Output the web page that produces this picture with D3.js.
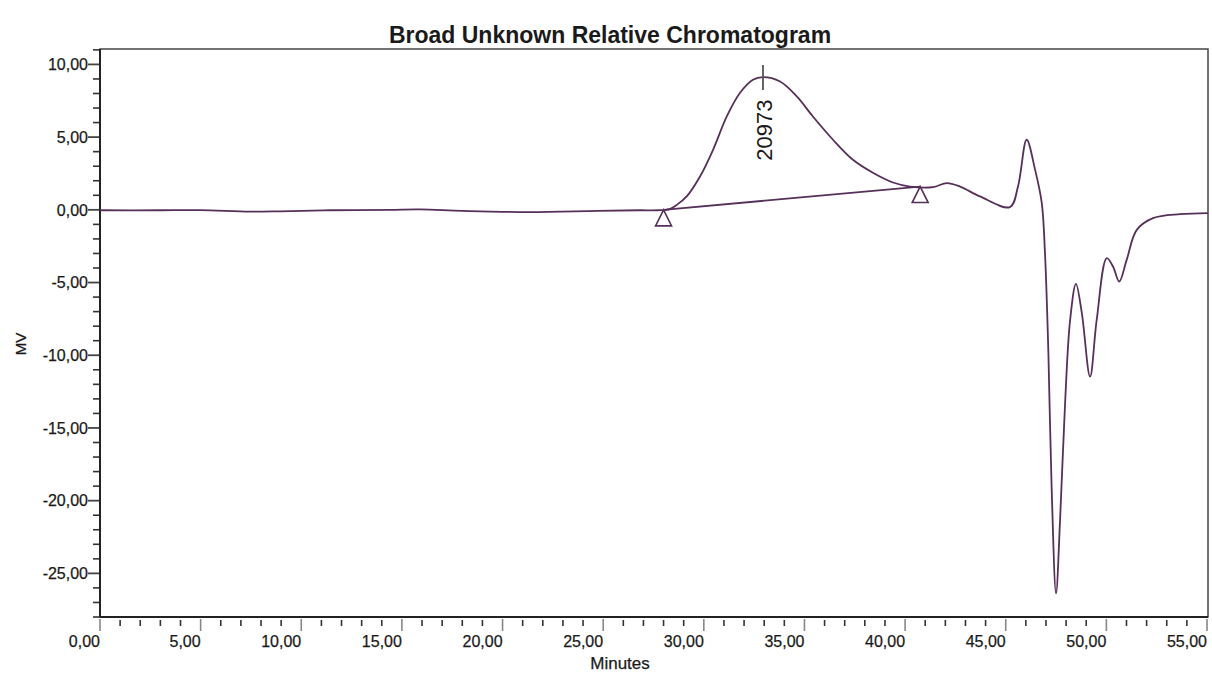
<!DOCTYPE html>
<html>
<head>
<meta charset="utf-8">
<script src="https://cdn.jsdelivr.net/npm/d3@7"></script>
<style>
  body { margin: 0; background: #fff; }
  svg { font-family: "Liberation Sans", Arial, sans-serif; }
</style>
</head>
<body>
<div id="chart"></div>
<script>

// --------------------------------------
//  Data
// --------------------------------------

const minutes = [0, 2.98, 4.97, 7.45, 8.94, 11.4, 14.4, 15.9, 18.0, 21.4, 24.7, 26.8, 27.7, 28.3, 28.66,
  29.15, 29.81, 30.46, 31.14, 31.8, 32.44, 32.94, 33.79, 34.62, 35.42, 36.42, 37.41, 38.4, 39.4,
  40.24, 41.39, 42.07, 42.73, 43.72, 45.21, 45.61, 46.04, 46.46, 46.79, 46.95, 47.12, 47.28, 47.5,
  47.7, 47.95, 48.2, 48.49, 48.78, 49.19, 49.52, 50.02, 50.33, 50.64, 51.01, 51.51, 52.32, 53.66, 55.05];

const mv = [-0.03, -0.03, -0.02, -0.12, -0.10, -0.03, 0.0, 0.03, -0.07, -0.16, -0.07, -0.03, -0.03, 0.05, 0.34,
  0.92, 2.29, 4.13, 6.42, 8.05, 8.95, 9.13, 8.83, 7.80, 6.42, 4.82, 3.44, 2.55, 1.88,
  1.60, 1.56, 1.84, 1.60, 0.92, 0.19, 1.60, 4.82, 2.75, 0.48, -2.96, -9.84, -19.04, -26.38,
  -21.34, -13.28, -7.57, -5.09, -7.09, -11.47, -7.57, -3.32, -3.90, -4.93, -3.44, -1.38, -0.57, -0.30, -0.23];

// integration baseline (start / end markers)
const baseTimes = [28.0, 40.75];
const baseValues = [0.0, 1.6];

// peak label
const peakTime = 32.94;
const peakValue = 9.13;
const peakArea = "20973";

const yTicks = [-25, -20, -15, -10, -5, 0, 5, 10];
const xTicks = [0, 5, 10, 15, 20, 25, 30, 35, 40, 45, 50, 55];

const data = minutes.map((t, i) => ({t: t, v: mv[i]}));

// --------------------------------------
//  Canvas
// --------------------------------------

const width = 1212;
const height = 673;
const margin = {top: 49, right: 4, bottom: 56, left: 100};

const svg = d3.select("#chart")
  .append("svg")
    .attr("width", width)
    .attr("height", height);

const lineColor = "#57305a";

// --------------------------------------
//  Scales
// --------------------------------------

const x = d3.scaleLinear()
    .domain([0, 55.05])
    .range([margin.left, width - margin.right]);

const y = d3.scaleLinear()
    .domain([-28, 11.06])
    .range([height - margin.bottom, margin.top]);

const fmt = d3.formatLocale({decimal: ",", thousands: ".", grouping: [3], currency: ["", ""], minus: "-"}).format(".2f");

// --------------------------------------
//  Frame
// --------------------------------------

svg.append("rect")
    .attr("x", x.range()[0])
    .attr("y", y.range()[1])
    .attr("width", x.range()[1] - x.range()[0])
    .attr("height", y.range()[0] - y.range()[1])
    .attr("fill", "none")
    .attr("stroke", "#444")
    .attr("stroke-width", 1.5);

// y axis
const yMinor = d3.range(-28, 12, 1).filter(d => d % 5 !== 0);

svg.selectAll(".yminor")
  .data(yMinor)
  .join("line")
    .attr("x1", margin.left - 7)
    .attr("x2", margin.left)
    .attr("y1", d => y(d))
    .attr("y2", d => y(d))
    .attr("stroke", "#333")
    .attr("stroke-width", 1.6);

svg.selectAll(".ymajor")
  .data(yTicks)
  .join("line")
    .attr("x1", margin.left - 12)
    .attr("x2", margin.left)
    .attr("y1", d => y(d))
    .attr("y2", d => y(d))
    .attr("stroke", "#444")
    .attr("stroke-width", 1.8);

svg.selectAll(".ylabel")
  .data(yTicks)
  .join("text")
    .attr("x", margin.left - 12)
    .attr("y", d => y(d))
    .attr("dy", "0.36em")
    .attr("text-anchor", "end")
    .attr("font-size", 16)
    .attr("fill", "#1a1a1a")
    .attr("stroke", "#1a1a1a")
    .attr("stroke-width", 0.25)
    .text(d => fmt(d));

svg.append("line")
    .attr("x1", margin.left)
    .attr("x2", margin.left)
    .attr("y1", y.range()[0])
    .attr("y2", y.range()[1])
    .attr("stroke", "#222")
    .attr("stroke-width", 2);

// x axis
const xMinor = d3.range(0, 56, 1).filter(d => d % 5 !== 0);
const axisY = y.range()[0];

svg.selectAll(".xminor")
  .data(xMinor)
  .join("line")
    .attr("x1", d => x(d))
    .attr("x2", d => x(d))
    .attr("y1", axisY + 3)
    .attr("y2", axisY + 9)
    .attr("stroke", "#333")
    .attr("stroke-width", 1.6);

svg.selectAll(".xmajor")
  .data(xTicks)
  .join("line")
    .attr("x1", d => x(d))
    .attr("x2", d => x(d))
    .attr("y1", axisY + 2)
    .attr("y2", axisY + 14)
    .attr("stroke", "#888")
    .attr("stroke-width", 1.6);

svg.selectAll(".xlabel")
  .data(xTicks)
  .join("text")
    .attr("x", d => x(d))
    .attr("y", axisY + 30)
    .attr("text-anchor", "end")
    .attr("font-size", 16)
    .attr("fill", "#1a1a1a")
    .attr("stroke", "#1a1a1a")
    .attr("stroke-width", 0.25)
    .text(d => fmt(d));

svg.append("line")
    .attr("x1", x.range()[0])
    .attr("x2", x.range()[1])
    .attr("y1", axisY)
    .attr("y2", axisY)
    .attr("stroke", "#222")
    .attr("stroke-width", 2);

// --------------------------------------
//  Titles
// --------------------------------------

svg.append("text")
    .attr("x", 610)
    .attr("y", 43)
    .attr("text-anchor", "middle")
    .attr("font-size", 23)
    .attr("font-weight", "bold")
    .attr("fill", "#1a1a1a")
    .text("Broad Unknown Relative Chromatogram");

svg.append("text")
    .attr("x", 620)
    .attr("y", 669)
    .attr("text-anchor", "middle")
    .attr("font-size", 17)
    .attr("fill", "#1a1a1a")
    .attr("stroke", "#1a1a1a")
    .attr("stroke-width", 0.25)
    .text("Minutes");

svg.append("text")
    .attr("transform", "translate(26, 344) rotate(-90)")
    .attr("text-anchor", "middle")
    .attr("font-size", 15)
    .attr("fill", "#1a1a1a")
    .attr("stroke", "#1a1a1a")
    .attr("stroke-width", 0.25)
    .text("MV");

// --------------------------------------
//  Trace
// --------------------------------------

const line = d3.line()
    .x(d => x(d.t))
    .y(d => y(d.v))
    .curve(d3.curveCatmullRom.alpha(0.5));

svg.append("path")
    .datum(data)
    .attr("d", line)
    .attr("fill", "none")
    .attr("stroke", lineColor)
    .attr("stroke-width", 1.8);

// baseline
svg.append("line")
    .attr("x1", x(baseTimes[0]))
    .attr("y1", y(baseValues[0]))
    .attr("x2", x(baseTimes[1]))
    .attr("y2", y(baseValues[1]))
    .attr("stroke", lineColor)
    .attr("stroke-width", 1.8);

// start / end markers
svg.selectAll(".marker")
  .data(baseTimes)
  .join("path")
    .attr("transform", (d, i) => `translate(${x(d)}, ${y(baseValues[i])})`)
    .attr("d", "M0,0 L8,16 L-8,16 Z")
    .attr("fill", "#fff")
    .attr("stroke", lineColor)
    .attr("stroke-width", 1.6);

// peak tick + area label
svg.append("line")
    .attr("x1", x(peakTime))
    .attr("x2", x(peakTime))
    .attr("y1", y(peakValue) - 12)
    .attr("y2", y(peakValue) + 13)
    .attr("stroke", "#555")
    .attr("stroke-width", 1.8);

svg.append("text")
    .attr("transform", `translate(${x(peakTime) + 9}, ${y(peakValue) + 53}) rotate(-90)`)
    .attr("text-anchor", "middle")
    .attr("font-size", 22)
    .attr("fill", "#1a1a1a")
    .text(peakArea);

</script>
</body>
</html>
